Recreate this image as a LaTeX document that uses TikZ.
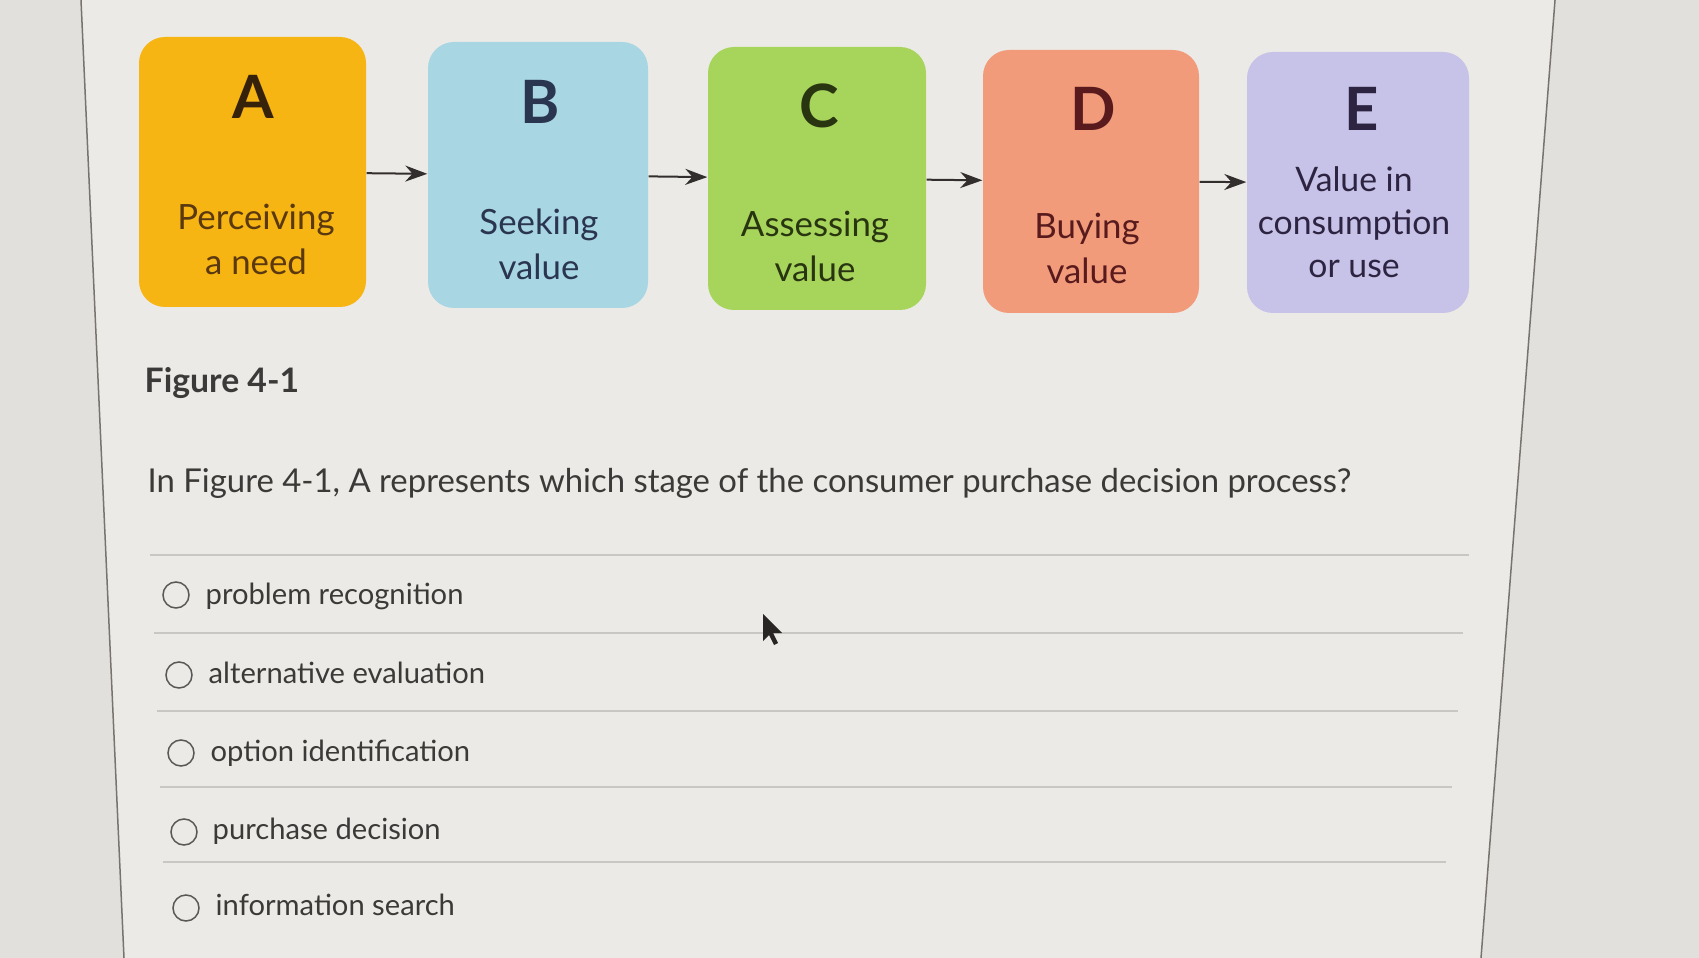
\documentclass[tikz,border=0pt]{standalone}
\usepackage{fontspec}
\setmainfont{Lato}
\usepackage{tikz}
\usetikzlibrary{positioning,arrows.meta}

\definecolor{outside}{HTML}{E2E0DC}
\definecolor{panel}{HTML}{ECEAE6}
\definecolor{frameline}{HTML}{77746F}
\definecolor{stageA}{HTML}{F6B512}
\definecolor{stageB}{HTML}{A9D6E3}
\definecolor{stageC}{HTML}{A7D45B}
\definecolor{stageD}{HTML}{F29B7B}
\definecolor{stageE}{HTML}{C7C2E7}
\definecolor{inkA}{HTML}{5A3810}
\definecolor{inkB}{HTML}{2A3650}
\definecolor{inkC}{HTML}{283510}
\definecolor{inkD}{HTML}{581A1C}
\definecolor{inkE}{HTML}{2C2440}
\definecolor{arrowgray}{HTML}{332E2E}
\definecolor{inkgray}{HTML}{3C3A38}
\definecolor{sepgray}{HTML}{C9C7C3}
\definecolor{radiogray}{HTML}{5A5856}

\begin{document}
\begin{tikzpicture}[x=0.1mm, y=-0.1mm,
    stage/.style={rounded corners=2.6mm, inner sep=0pt},
    letter/.style={font=\fontsize{17}{20}\selectfont\bfseries},
    stagetext/.style={align=center, font=\fontsize{9.9}{12.8}\selectfont},
    flow/.style={draw=arrowgray, line width=0.2mm, -{Stealth[length=2.2mm, width=1.6mm]}},
    choice/.style={anchor=base west, inner sep=0pt, text=inkgray, font=\fontsize{8.3}{10}\selectfont},
    radio/.style={circle, draw=radiogray, line width=0.15mm, minimum size=2.6mm, inner sep=0pt},
    sepline/.style={draw=sepgray, line width=0.2mm}]
    \useasboundingbox (0,0) rectangle (1699,958);

    % page and frame
    \fill[outside] (0,0) rectangle (1699,958);
    \fill[panel] (81,0) -- (1555,0) -- (1481,958) -- (124,958) -- cycle;
    \draw[frameline, line width=0.15mm] (81,0) -- (124,958);
    \draw[frameline, line width=0.15mm] (1555,0) -- (1481,958);

    % the five stages
    \node (boxA) [stage, fill=stageA, minimum width=22.7mm, minimum height=27.0mm] at (252.5,172) {};
    \node (boxB) [stage, fill=stageB, minimum width=22.0mm, minimum height=26.6mm] at (538,175) {};
    \node (boxC) [stage, fill=stageC, minimum width=21.8mm, minimum height=26.3mm] at (817,178.5) {};
    \node (boxD) [stage, fill=stageD, minimum width=21.6mm, minimum height=26.3mm] at (1091,181.5) {};
    \node (boxE) [stage, fill=stageE, minimum width=22.2mm, minimum height=26.1mm] at (1358,182.5) {};

    \node (letA) [letter, text=inkA!60!black] at (253,97) {A};
    \node (letB) [letter, text=inkB] at (540,102) {B};
    \node (letC) [letter, text=inkC] at (819,106) {C};
    \node (letD) [letter, text=inkD] at (1093,109) {D};
    \node (letE) [letter, text=inkE] at (1362,109) {E};

    \node (txtA) [stagetext, text=inkA] at (256,239) {Perceiving\\a need};
    \node (txtB) [stagetext, text=inkB] at (539,244.5) {Seeking\\value};
    \node (txtC) [stagetext, text=inkC] at (815,246.5) {Assessing\\value};
    \node (txtD) [stagetext, text=inkD] at (1087,248.5) {Buying\\value};
    \node (txtE) [stagetext, text=inkE, font=\fontsize{9.6}{12.2}\selectfont] at (1354,222) {Value in\\consumption\\or use};

    \draw[flow] (boxA) -- (boxB);
    \draw[flow] (boxB) -- (boxC);
    \draw[flow] (boxC) -- (boxD);
    \draw[flow] (boxD) -- (boxE);

    % caption and question
    \node (caption) [anchor=base west, inner sep=0pt, text=inkgray, font=\fontsize{9.6}{11}\selectfont\bfseries] at (144,393) {Figure 4-1};
    \node (question) [anchor=base west, inner sep=0pt, text=inkgray, font=\fontsize{9.35}{11}\selectfont] at (147,493) {In Figure 4-1, A represents which stage of the consumer purchase decision process?};

    % answer list
    \draw[sepline] (150,555) -- (1469,555);
    \draw[sepline] (154,633) -- (1463,633);
    \draw[sepline] (157,711) -- (1458,711);
    \draw[sepline] (160,787) -- (1452,787);
    \draw[sepline] (163,862) -- (1446,862);

    \node (radio1) [radio] at (176,595) {};
    \node (radio2) [radio] at (179,675) {};
    \node (radio3) [radio] at (181,753) {};
    \node (radio4) [radio] at (184,832) {};
    \node (radio5) [radio] at (186,908) {};

    \node (opt1) [choice] at (205,604) {problem recognition};
    \node (opt2) [choice] at (208,683) {alternative evaluation};
    \node (opt3) [choice] at (210,761) {option identification};
    \node (opt4) [choice] at (212,839) {purchase decision};
    \node (opt5) [choice] at (215,915) {information search};

    % mouse pointer
    \fill[arrowgray!80!black] (763,614) -- (763,641) -- (769,635) -- (774,645) -- (778,643) -- (773,633) -- (782,633) -- cycle;
\end{tikzpicture}
\end{document}
